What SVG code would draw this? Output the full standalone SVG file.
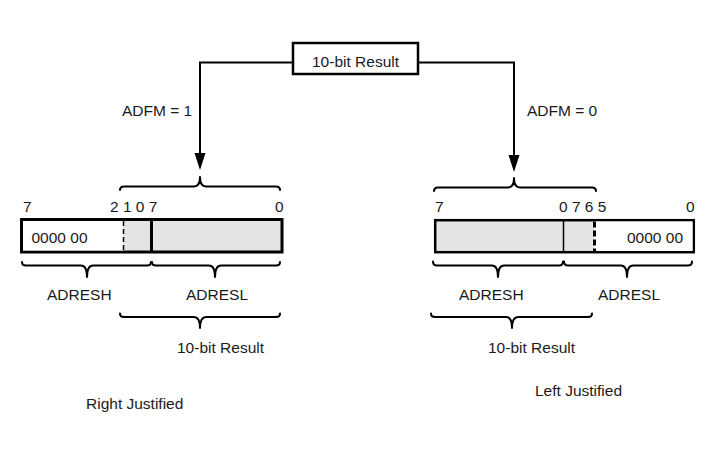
<svg xmlns="http://www.w3.org/2000/svg" width="725" height="466" viewBox="0 0 725 466">
<style>
text{font-family:"Liberation Sans",Arial,sans-serif;font-size:15.5px;fill:#1a1a1a}
.ln{fill:none;stroke:#000;stroke-width:2}
.br{fill:none;stroke:#000;stroke-width:2;stroke-linecap:round;stroke-linejoin:round}
.reg{fill:#e4e4e4;stroke:#000}
.wh{fill:#fff}
</style>
<defs>
<marker id="ah" markerUnits="userSpaceOnUse" markerWidth="18" markerHeight="12" refX="0" refY="5.5" orient="auto">
<path d="M0,0 L17,5.5 L0,11 z" fill="#000"/>
</marker>
</defs>
<rect width="725" height="466" fill="#fff"/>

<g id="result-box">
<rect x="293" y="43" width="125" height="31" fill="#fff" stroke="#000" stroke-width="2.5"/>
<text x="312" y="67">10-bit Result</text>
</g>

<g id="connectors">
<path class="ln" d="M292,62.5 H200 V153" marker-end="url(#ah)"/>
<path class="ln" d="M419,62.5 H514 V155" marker-end="url(#ah)"/>
<text x="122" y="116">ADFM = 1</text>
<text x="527" y="116">ADFM = 0</text>
</g>

<g id="right-justified">
<path class="br" d="M120,190 Q120,186.5 124,186.5 L194,186.5 Q200,186.5 200,177 Q200,186.5 206,186.5 L276,186.5 Q280,186.5 280,190"/>
<text x="23" y="212">7</text>
<text x="110" y="212">2 1 0 7</text>
<text x="275" y="212">0</text>
<rect class="reg" x="21.5" y="219.5" width="260.5" height="32.5" stroke-width="3"/>
<rect class="wh" x="23" y="221" width="100.5" height="29.5"/>
<line x1="123.5" y1="221" x2="123.5" y2="250.5" stroke="#000" stroke-width="1.5" stroke-dasharray="5,3"/>
<line x1="151.5" y1="220" x2="151.5" y2="251.5" stroke="#000" stroke-width="3"/>
<text x="31.5" y="243">0000 00</text>
<path class="br" d="M22,262 Q22,265.5 26,265.5 L81,265.5 Q87,265.5 87,277 Q87,265.5 93,265.5 L147,265.5 Q151,265.5 151,262"/>
<path class="br" d="M152,262 Q152,265.5 156,265.5 L209,265.5 Q215,265.5 215,277 Q215,265.5 221,265.5 L276,265.5 Q280,265.5 280,262"/>
<text x="47" y="300">ADRESH</text>
<text x="186" y="300">ADRESL</text>
<path class="br" d="M120,313.5 Q120,317 124,317 L194,317 Q200,317 200,328 Q200,317 206,317 L276,317 Q280,317 280,313.5"/>
<text x="177" y="353">10-bit Result</text>
<text x="86" y="409">Right Justified</text>
</g>

<g id="left-justified">
<path class="br" d="M434,191 Q434,187.5 438,187.5 L508,187.5 Q514,187.5 514,178 Q514,187.5 520,187.5 L592,187.5 Q596,187.5 596,191"/>
<text x="435" y="212">7</text>
<text x="559" y="212">0 7 6 5</text>
<text x="686" y="212">0</text>
<rect class="reg" x="435.2" y="220.2" width="258.6" height="32" stroke-width="2.5"/>
<rect class="wh" x="594" y="221.5" width="98.5" height="29.5"/>
<line x1="594.5" y1="221.5" x2="594.5" y2="251" stroke="#000" stroke-width="3" stroke-dasharray="6,3"/>
<line x1="563.5" y1="221" x2="563.5" y2="251.5" stroke="#000" stroke-width="1.5"/>
<text x="627" y="243">0000 00</text>
<path class="br" d="M433,261.5 Q433,265.5 437,265.5 L492,265.5 Q498,265.5 498,277 Q498,265.5 504,265.5 L559,265.5 Q563,265.5 563,261.5"/>
<path class="br" d="M564,261.5 Q564,265.5 568,265.5 L621,265.5 Q627,265.5 627,277 Q627,265.5 633,265.5 L688,265.5 Q692,265.5 692,261.5"/>
<text x="459" y="299.5">ADRESH</text>
<text x="598" y="299.5">ADRESL</text>
<path class="br" d="M431,313.5 Q431,317 435,317 L506,317 Q512,317 512,328 Q512,317 518,317 L588,317 Q592,317 592,313.5"/>
<text x="488" y="353">10-bit Result</text>
<text x="535" y="396">Left Justified</text>
</g>
</svg>
